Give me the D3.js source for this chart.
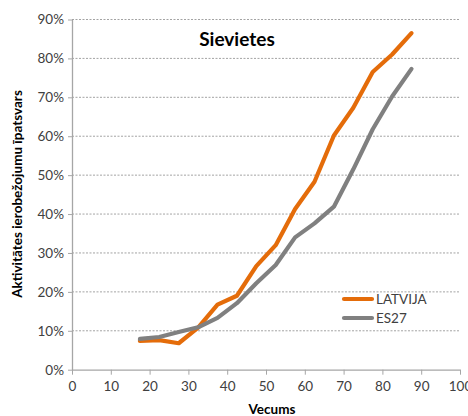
<!DOCTYPE html>
<html><head><meta charset="utf-8">
<script src="https://cdn.jsdelivr.net/npm/d3@7"></script>
<style>body{margin:0;background:#fff}svg{display:block}</style>
</head><body><svg id="c" width="468" height="416"></svg>
<script>
const ages = [17.5,22.5,27.5,32.5,37.5,42.5,47.5,52.5,57.5,62.5,67.5,72.5,77.5,82.5,87.5];
const latvija = [7.4,7.6,6.8,10.8,16.7,19.0,26.6,32.0,41.3,48.3,60.2,67.3,76.5,81.0,86.5];
const es27 = [7.9,8.4,9.7,10.9,13.3,17.1,22.2,26.9,34.0,37.6,41.9,51.5,61.8,70.2,77.3];
const xTicks = [0,10,20,30,40,50,60,70,80,90,100];
const yTicks = [0,10,20,30,40,50,60,70,80,90];
const seriesNames = ["LATVIJA","ES27"];
const colors = ["#E46C0A","#808080"];
const title = "Sievietes";
const yTitle = "Aktivitātes ierobežojumu īpatsvars";
const xTitle = "Vecums";

const svg = d3.select("#c");
const font = "Lato, 'Open Sans', sans-serif";
const x = d3.scaleLinear().domain([0,100]).range([72,460]);
const y = d3.scaleLinear().domain([0,90]).range([369.7,19.5]);

// gridlines
svg.append("g").selectAll("line").data(yTicks.filter(d=>d>0)).join("line")
  .attr("x1",72).attr("x2",460).attr("y1",d=>y(d)).attr("y2",d=>y(d))
  .attr("stroke","#8c8c8c").attr("stroke-width",0.8).attr("stroke-dasharray","2,1.5");

// y axis
const ya = svg.append("g").attr("transform","translate(72,0)")
  .call(d3.axisLeft(y).tickValues(yTicks).tickFormat(d=>d+"%").tickSizeInner(4).tickSizeOuter(0).tickPadding(4));
ya.select(".domain").attr("stroke","#a6a6a6").attr("stroke-width",1.3);
ya.selectAll(".tick line").attr("stroke","#a6a6a6");
ya.selectAll("text").attr("font-family",font).attr("font-size",13.5).attr("fill","#404040");

// x axis
const xa = svg.append("g").attr("transform","translate(0,369.7)")
  .call(d3.axisBottom(x).tickValues(xTicks).tickSizeInner(5).tickSizeOuter(0).tickPadding(7));
xa.select(".domain").attr("stroke","#a6a6a6").attr("stroke-width",1.3);
xa.selectAll(".tick line").attr("stroke","#a6a6a6");
xa.selectAll("text").attr("font-family",font).attr("font-size",13.5).attr("fill","#404040");

// lines
const line = d3.line().x((d,i)=>x(ages[i])).y(d=>y(d));
[latvija, es27].forEach((s,k)=>{
  svg.append("path").datum(s).attr("d",line).attr("fill","none")
    .attr("stroke",colors[k]).attr("stroke-width",4.2)
    .attr("stroke-linejoin","round").attr("stroke-linecap","round");
});

// title
svg.append("text").attr("x",237).attr("y",46).attr("text-anchor","middle")
  .attr("font-family",font).attr("font-weight","bold").attr("font-size",19).attr("fill","#000").text(title);

// axis titles
svg.append("text").attr("transform","translate(22,194) rotate(-90)").attr("text-anchor","middle")
  .attr("font-family",font).attr("font-weight","bold").attr("font-size",13.5).attr("fill","#000").text(yTitle);
svg.append("text").attr("x",272).attr("y",414).attr("text-anchor","middle")
  .attr("font-family",font).attr("font-weight","bold").attr("font-size",13.5).attr("fill","#000").text(xTitle);

// legend
const lg = svg.append("g");
seriesNames.forEach((n,k)=>{
  const yy = 299 + k*19;
  lg.append("line").attr("x1",344).attr("x2",372).attr("y1",yy).attr("y2",yy)
    .attr("stroke",colors[k]).attr("stroke-width",4.2).attr("stroke-linecap","round");
  lg.append("text").attr("x",376).attr("y",yy+5).attr("font-family",font).attr("font-size",13.5)
    .attr("fill","#404040").text(n);
});
</script></body></html>
